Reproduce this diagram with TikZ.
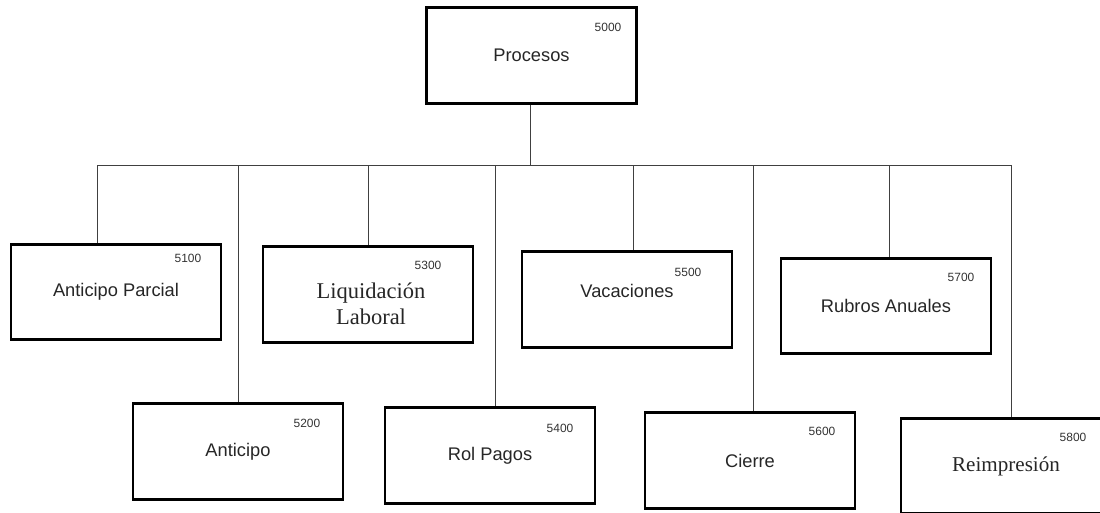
\documentclass[tikz,border=0pt]{standalone}
\usepackage{fontspec}
\setmainfont{Liberation Sans}
\newfontfamily\romfont{Liberation Serif}
\usetikzlibrary{positioning}

\tikzset{
  proc/.style={draw, line width=2pt, minimum width=5.25cm, minimum height=2.38cm,
    inner sep=0pt, align=center, text=black!85, font=\fontsize{13}{15}\selectfont},
  procrom/.style={proc, font=\romfont\fontsize{15}{17}\selectfont},
  num/.style={inner sep=0pt, text=black!80, font=\fontsize{8.5}{9}\selectfont},
  conn/.style={draw=black!75, line width=0.5pt}
}

\begin{document}
\begin{tikzpicture}[x=0.025cm, y=-0.025cm]
\useasboundingbox (0,0) rectangle (1100,513);
\clip (0,0) rectangle (1100,513);

% root
\node[proc] (p5000) at (531.5,55.5) {Procesos};
\node[num] (n5000) at (608,27) {5000};

% first row
\node[proc] (p5100) at (116,292) {Anticipo Parcial};
\node[num] (n5100) at (188,258) {5100};
\node[proc] (p5300) at (368,294.5) {};
\node[align=center, inner sep=0pt, text=black!85, font=\romfont\fontsize{16}{18.5}\selectfont]
  (t5300) at (371,304) {Liquidación\\Laboral};
\node[num] (n5300) at (428,265) {5300};
\node[proc, text depth=0.42cm] (p5500) at (627,299.5) {Vacaciones};
\node[num] (n5500) at (688,272) {5500};
\node[proc] (p5700) at (886,306) {Rubros Anuales};
\node[num] (n5700) at (961,277) {5700};

% second row
\node[proc] (p5200) at (238,451.5) {Anticipo};
\node[num] (n5200) at (307,423) {5200};
\node[proc] (p5400) at (490,455.5) {Rol Pagos};
\node[num] (n5400) at (560,428) {5400};
\node[proc] (p5600) at (750,460.5) {Cierre};
\node[num] (n5600) at (822,431) {5600};
\node[procrom] (p5800) at (1006,466) {Reimpresión};
\node[num] (n5800) at (1073,437) {5800};

% bus
\coordinate (d5100) at (97,165);
\coordinate (d5200) at (238,165);
\coordinate (d5300) at (368,165);
\coordinate (d5400) at (495,165);
\coordinate (d5500) at (633,165);
\coordinate (d5600) at (753,165);
\coordinate (d5700) at (889,165);
\coordinate (d5800) at (1011,165);
\coordinate (dtop) at (530,165);

\draw[conn] (d5100) -- (d5800);
\draw[conn] (p5000.south -| dtop) -- (dtop);
\draw[conn] (d5100) -- (d5100 |- p5100.north);
\draw[conn] (d5200) -- (d5200 |- p5200.north);
\draw[conn] (d5300) -- (d5300 |- p5300.north);
\draw[conn] (d5400) -- (d5400 |- p5400.north);
\draw[conn] (d5500) -- (d5500 |- p5500.north);
\draw[conn] (d5600) -- (d5600 |- p5600.north);
\draw[conn] (d5700) -- (d5700 |- p5700.north);
\draw[conn] (d5800) -- (d5800 |- p5800.north);
\end{tikzpicture}
\end{document}
